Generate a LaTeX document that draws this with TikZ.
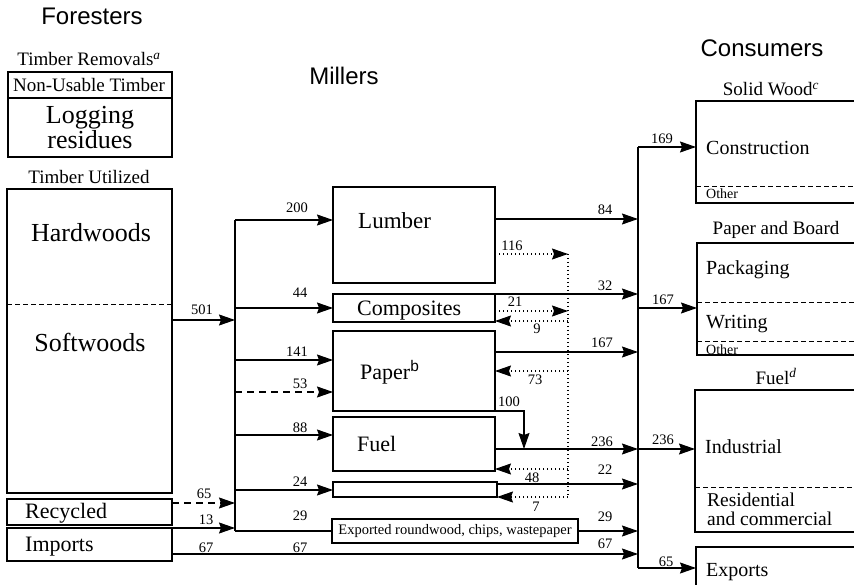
\documentclass[tikz,border=0pt]{standalone}
\usepackage{fontspec}
\setmainfont{Liberation Serif}
\newfontfamily\hv{Liberation Sans}
\usetikzlibrary{arrows.meta}
\newcommand\fsz[1]{\fontsize{#1}{#1}\selectfont}
\begin{document}
\begin{tikzpicture}[x=1pt,y=-1pt,
  box/.style={draw, line width=1.1pt, inner sep=0pt, outer sep=0pt, anchor=north west},
  ln/.style={line width=1.1pt},
  arr/.style={ln, -{Stealth[length=16pt,width=11pt,inset=2pt]}},
  dot/.style={ln, dash pattern=on 1.2pt off 2.8pt},
  dsh/.style={ln, dash pattern=on 7pt off 5pt},
  fdsh/.style={line width=0.9pt, dash pattern=on 5pt off 3pt},
  txt/.style={font=\fsz{#1}, inner sep=0pt},
  hdr/.style={font=\hv\fsz{24}, inner sep=0pt, anchor=base},
  num/.style={font=\fsz{14.5}, inner sep=0pt}]
\clip (0,0) rectangle (854,585);

% headers
\node[hdr] (hfor) at (92,25) {Foresters};
\node[hdr] (hmil) at (344,85) {Millers};
\node[hdr] (hcon) at (762,57) {Consumers};

% foresters boxes
\node[box, minimum width=164pt, minimum height=26pt] (nonusable) at (8,72) {};
\node[box, minimum width=164pt, minimum height=59pt] (logging) at (8,98) {};
\node[box, minimum width=165pt, minimum height=304pt] (timber) at (7,189) {};
\node[box, minimum width=165pt, minimum height=26pt] (recycled) at (7,499) {};
\node[box, minimum width=165pt, minimum height=33pt] (imports) at (7,528) {};
\draw[fdsh] (7,304) -- (172,304);

\node[txt=19, anchor=base] (ttr) at (89,66) {Timber Removals\textsuperscript{\itshape a}};
\node[txt=19, anchor=base] (tnu) at (89,92) {Non-Usable Timber};
\node[inner sep=0pt, anchor=north, align=center, font=\fontsize{26}{23}\selectfont] (tlog) at (90,106) {Logging\\residues};
\node[txt=19, anchor=base] (ttu) at (89,184) {Timber Utilized};
\node[txt=26, anchor=base] (thw) at (91,242) {Hardwoods};
\node[txt=26, anchor=base] (tsw) at (90,352) {Softwoods};
\node[txt=22, anchor=base west] (trec) at (25,518) {Recycled};
\node[txt=22, anchor=base west] (timp) at (25,551) {Imports};

% millers boxes
\node[box, minimum width=162pt, minimum height=96pt] (lumber) at (333,187) {};
\node[box, minimum width=162pt, minimum height=28pt] (composites) at (333,294) {};
\node[box, minimum width=162pt, minimum height=80pt] (paper) at (333,331) {};
\node[box, minimum width=162pt, minimum height=54pt] (fuelm) at (333,417) {};
\node[box, minimum width=164pt, minimum height=15pt] (blank) at (333,482) {};
\node[box, minimum width=246pt, minimum height=24pt, font=\fsz{14.5}] (exported) at (332,519) {Exported roundwood, chips, wastepaper};

\node[txt=23, anchor=base west] (tlum) at (358,229) {Lumber};
\node[txt=22, anchor=base west] (tcom) at (357,316) {Composites};
\node[txt=22, anchor=base west] (tpap) at (360,379) {Paper\textsuperscript{\hv b}};
\node[txt=22, anchor=base west] (tfue) at (357,451) {Fuel};

% consumers boxes (open to the right)
\node[box, minimum width=180pt, minimum height=102pt] (solid) at (696,101) {};
\node[box, minimum width=180pt, minimum height=112pt] (pb) at (697,243) {};
\node[box, minimum width=180pt, minimum height=142pt] (fuelc) at (695,390) {};
\node[box, minimum width=180pt, minimum height=60pt] (exports) at (696,547) {};
\draw[fdsh] (696,186) -- (860,186);
\draw[fdsh] (697,302) -- (860,302);
\draw[fdsh] (697,341) -- (860,341);
\draw[fdsh] (695,487) -- (860,487);

\node[txt=19, anchor=base] (tsol) at (771,96) {Solid Wood\textsuperscript{\itshape c}};
\node[txt=20, anchor=base west] (tcon) at (706,155) {Construction};
\node[txt=14, anchor=base west] (toth1) at (706,199) {Other};
\node[txt=19, anchor=base] (tpb) at (776,235) {Paper and Board};
\node[txt=20, anchor=base west] (tpac) at (706,275) {Packaging};
\node[txt=20, anchor=base west] (twri) at (706,328) {Writing};
\node[txt=14, anchor=base west] (toth2) at (706,354) {Other};
\node[txt=19, anchor=base] (tfd) at (776,384) {Fuel\textsuperscript{\itshape d}};
\node[txt=20, anchor=base west] (tind) at (705,453) {Industrial};
\node[inner sep=0pt, anchor=north west, align=left, font=\fontsize{19.5}{19}\selectfont] (tres) at (707,493) {Residential\\and commercial};
\node[txt=20, anchor=base west] (texp) at (706,576) {Exports};

% left collector
\coordinate (jTop) at (235,220);
\coordinate (j501) at (235,320);
\coordinate (j44) at (235,308);
\coordinate (j141) at (235,360);
\coordinate (j53) at (235,392);
\coordinate (j88) at (235,435);
\coordinate (j24) at (235,490);
\coordinate (j65) at (235,503);
\coordinate (j13) at (235,528);
\coordinate (jBot) at (235,531);

% right collector
\coordinate (rTop) at (638,147);
\coordinate (r84) at (638,219);
\coordinate (r32) at (638,294);
\coordinate (rPB) at (638,308);
\coordinate (r167) at (638,352);
\coordinate (r236) at (638,449);
\coordinate (r22) at (638,484);
\coordinate (r29) at (638,531);
\coordinate (r67) at (638,554);
\coordinate (rBot) at (638,568);

% dotted recycle line
\coordinate (d116) at (568,254);
\coordinate (d21) at (568,311);
\coordinate (d9) at (568,321);
\coordinate (d73) at (568,371);
\coordinate (d48) at (568,469);
\coordinate (d7) at (568,497);
\coordinate (k100) at (524,411);

\draw[ln] (jTop) -- (jBot);
\draw[arr] (timber.east |- j501) -- (j501);
\draw[arr] (jTop) -- (lumber.west |- jTop);
\draw[arr] (j44) -- (composites.west |- j44);
\draw[arr] (j141) -- (paper.west |- j141);
\draw[arr, dsh] (j53) -- (paper.west |- j53);
\draw[arr] (j88) -- (fuelm.west |- j88);
\draw[arr] (j24) -- (blank.west |- j24);
\draw[arr, dsh] (recycled.east |- j65) -- (j65);
\draw[arr] (imports.north east) -- (j13);
\draw[ln] (jBot) -- (exported.west |- jBot);
\draw[arr] (imports.east |- r67) -- (r67);

\draw[ln] (rTop) -- (rBot);
\draw[arr] (rTop) -- (solid.west |- rTop);
\draw[arr] (rPB) -- (pb.west |- rPB);
\draw[arr] (r236) -- (fuelc.west |- r236);
\draw[arr] (rBot) -- (exports.west |- rBot);
\draw[arr] (lumber.east |- r84) -- (r84);
\draw[arr] (composites.north east) -- (r32);
\draw[arr] (paper.east |- r167) -- (r167);
\draw[arr] (fuelm.east |- r236) -- (r236);
\draw[arr] (blank.east |- r22) -- (r22);
\draw[arr] (exported.east) -- (r29);

\draw[dot] (d116) -- (d7);
\draw[arr, dot] (lumber.east |- d116) -- (d116);
\draw[arr, dot] (composites.east |- d21) -- (d21);
\draw[arr, dot] (d9) -- (composites.east |- d9);
\draw[arr, dot] (d73) -- (paper.east |- d73);
\draw[arr, dot] (d48) -- (fuelm.east |- d48);
\draw[arr, dot] (d7) -- (blank.east |- d7);
\draw[arr] (paper.south east) -- (k100) -- (k100 |- r236);

% numbers
\node[num] (n501) at (202,310) {501};
\node[num] (n200) at (297,208) {200};
\node[num] (n44) at (300,293) {44};
\node[num] (n141) at (297,352) {141};
\node[num] (n53) at (300,384) {53};
\node[num] (n88) at (300,428) {88};
\node[num] (n24) at (300,482) {24};
\node[num] (n65l) at (204,494) {65};
\node[num] (n13) at (206,520) {13};
\node[num] (n29l) at (300,516) {29};
\node[num] (n67a) at (206,548) {67};
\node[num] (n67b) at (300,548) {67};
\node[num] (n84) at (605,210) {84};
\node[num] (n116) at (512,246) {116};
\node[num] (n32) at (605,286) {32};
\node[num] (n21) at (515,302) {21};
\node[num] (n9) at (537,329) {9};
\node[num] (n167) at (602,343) {167};
\node[num] (n73) at (535,380) {73};
\node[num] (n100) at (509,402) {100};
\node[num] (n236) at (602,442) {236};
\node[num] (n22) at (605,470) {22};
\node[num] (n48) at (532,478) {48};
\node[num] (n7) at (536,507) {7};
\node[num] (n29r) at (605,517) {29};
\node[num] (n67c) at (605,544) {67};
\node[num] (n169) at (662,139) {169};
\node[num] (n167c) at (663,300) {167};
\node[num] (n236c) at (663,440) {236};
\node[num] (n65c) at (666,562) {65};
\end{tikzpicture}
\end{document}
